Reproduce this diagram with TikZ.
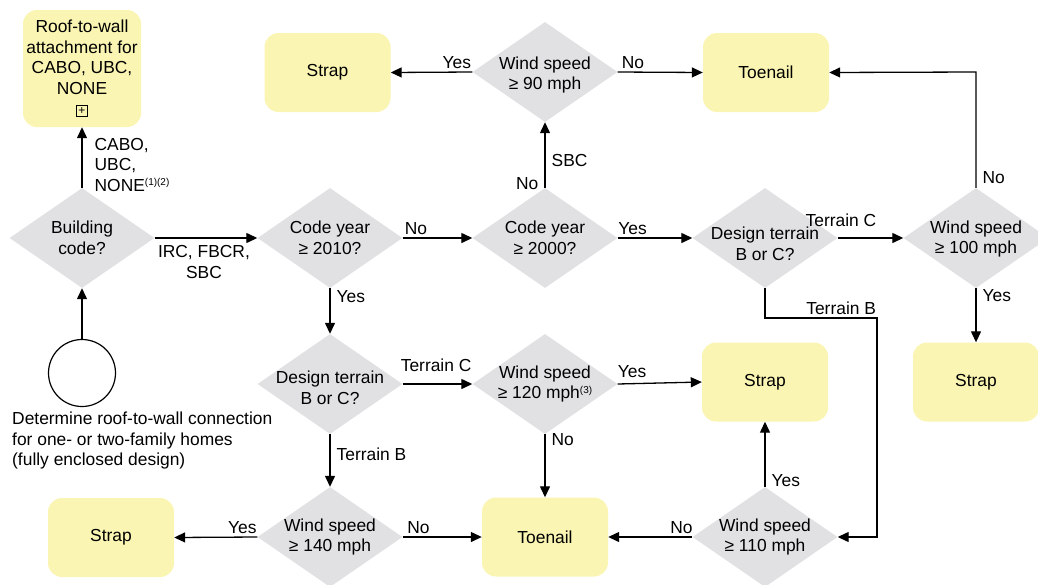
\documentclass[tikz,border=0pt]{standalone}
\usepackage{fontspec}
\setmainfont{Liberation Sans}
\usetikzlibrary{shapes.geometric,arrows.meta}
\definecolor{boxyellow}{RGB}{250,245,178}
\definecolor{diagray}{RGB}{225,225,227}
\newcommand{\mysups}[1]{\raisebox{0.6ex}{\fontsize{10}{10}\selectfont #1}}
\begin{document}
\begin{tikzpicture}[x=1pt,y=-1pt,
  every node/.style={font=\fontsize{17.4}{20.5}\selectfont},
  res/.style={fill=boxyellow, rounded corners=14pt, minimum width=126pt, minimum height=79pt, inner sep=0pt, align=center},
  dia/.style={diamond, fill=diagray, minimum width=145pt, minimum height=100pt, inner sep=0pt},
  dtxt/.style={align=center, inner sep=0pt},
  arr/.style={line width=1.3pt, -{Triangle[length=11pt,width=10pt]}},
  lab/.style={anchor=base, yshift=4pt, inner sep=0pt},
  labr/.style={anchor=west, xshift=6pt, inner sep=0pt, align=left},
  labl/.style={anchor=east, xshift=-6pt, inner sep=0pt},
]
\useasboundingbox (0,0) rectangle (1038,584);

% result boxes
\node[res, minimum width=118pt, minimum height=117pt] (roof) at (82,68.5)
  {Roof-to-wall\\attachment for\\CABO, UBC,\\NONE\\[1pt]{\setlength\fboxsep{0pt}\setlength\fboxrule{0.8pt}\fbox{\parbox[c][10pt][c]{10pt}{\centering\fontsize{12}{12}\selectfont +}}}};
\node[res] (strapT) at (327.5,72.5) {Strap};
\node[res] (toeT) at (766,72.5) {Toenail};
\node[res] (strapR) at (976,382) {Strap};
\node[res] (strapM) at (765,382) {Strap};
\node[res] (strapBL) at (111,537.5) {Strap};
\node[res] (toeB) at (545,537) {Toenail};

% decisions
\node[dia, label={[dtxt]center:{Building\\code?}}] (bc) at (82,238) {};
\node[dia, label={[dtxt]center:{Code year\\≥ 2010?}}] (c2010) at (330,238) {};
\node[dia, label={[dtxt]center:{Code year\\≥ 2000?}}] (c2000) at (545,238) {};
\node[dia, label={[dtxt, yshift=-6pt]center:{Design terrain\\B or C?}}] (dt1) at (765,238) {};
\node[dia, label={[dtxt, yshift=-1pt]center:{Wind speed\\≥ 100 mph}}] (w100) at (976,238) {};
\node[dia, label={[dtxt, yshift=-3pt]center:{Wind speed\\≥ 90 mph}}] (w90) at (545,72) {};
\node[dia, label={[dtxt, yshift=-4pt]center:{Design terrain\\B or C?}}] (dt2) at (330,384) {};
\node[dia, label={[dtxt]center:{Wind speed\\≥ 120 mph\mysups{(3)}}}] (w120) at (545,384) {};
\node[dia, label={[dtxt]center:{Wind speed\\≥ 140 mph}}] (w140) at (330,537) {};
\node[dia, label={[dtxt]center:{Wind speed\\≥ 110 mph}}] (w110) at (765,537) {};

% start
\node[circle, draw, line width=1.2pt, minimum size=67pt, inner sep=0pt] (start) at (82,373) {};
\node[anchor=north west, align=left, inner sep=0pt] (desc) at (12,412)
  {Determine roof-to-wall connection\\for one- or two-family homes\\(fully enclosed design)};

% helper coordinates
\coordinate (tb0) at (765,318);
\coordinate (tb1) at (877,318);
\coordinate (tb2) at (877,537);
\coordinate (nc) at (976,72);

% connectors
\draw[arr] (start.north) -- (bc.south);
\draw[arr] (bc.north) -- node[labr, pos=0.38, xshift=6pt]{CABO,\\UBC,\\NONE\mysups{(1)(2)}} (bc.north |- roof.south);
\draw[arr] (bc.east) -- node[anchor=north, align=center, inner sep=0pt, pos=0.48, yshift=-7pt]{IRC, FBCR,\\SBC} (c2010.west);
\draw[arr] (c2010.east) -- node[lab, pos=0.19]{No} (c2000.west);
\draw[arr] (c2010.south) -- node[labr, pos=0.19]{Yes} (dt2.north);
\draw[arr] (c2000.north) -- node[labl, pos=0.06]{No} node[labr, pos=0.42]{SBC} (w90.south);
\draw[arr] (c2000.east) -- node[lab, pos=0.2]{Yes} (dt1.west);
\draw[arr] (w90.west) -- node[lab, pos=0.19]{Yes} (strapT.east);
\draw[arr] (w90.east) -- node[lab, pos=0.18]{No} (toeT.west);
\draw[arr] (dt1.east) -- node[lab, pos=0.05, yshift=8pt]{Terrain C} (w100.west);
\draw[arr] (dt1.south) -- (tb0) -- node[lab, pos=0.68]{Terrain B} (tb1) -- (tb2) -- (w110.east);
\draw[arr] (w100.north) -- node[labr, pos=0.09]{No} (nc) -- (toeT.east);
\draw[arr] (w100.south) -- node[labr, pos=0.13]{Yes} (strapR.north);
\draw[arr] (dt2.east) -- node[lab, pos=0.48, yshift=9pt]{Terrain C} (w120.west);
\draw[arr] (dt2.south) -- node[labr, pos=0.38]{Terrain B} (w140.north);
\draw[arr] (w120.east) -- node[lab, pos=0.17, yshift=2pt]{Yes} (strapM.west);
\draw[arr] (w120.south) -- node[labr, pos=0.08]{No} (toeB.north);
\draw[arr] (w140.west) -- node[lab, pos=0.18]{Yes} (strapBL.east);
\draw[arr] (w140.east) -- node[lab, pos=0.2]{No} (toeB.west);
\draw[arr] (w110.west) -- node[lab, pos=0.13]{No} (toeB.east);
\draw[arr] (w110.north) -- node[labr, pos=0.09]{Yes} (strapM.south);
\end{tikzpicture}
\end{document}
